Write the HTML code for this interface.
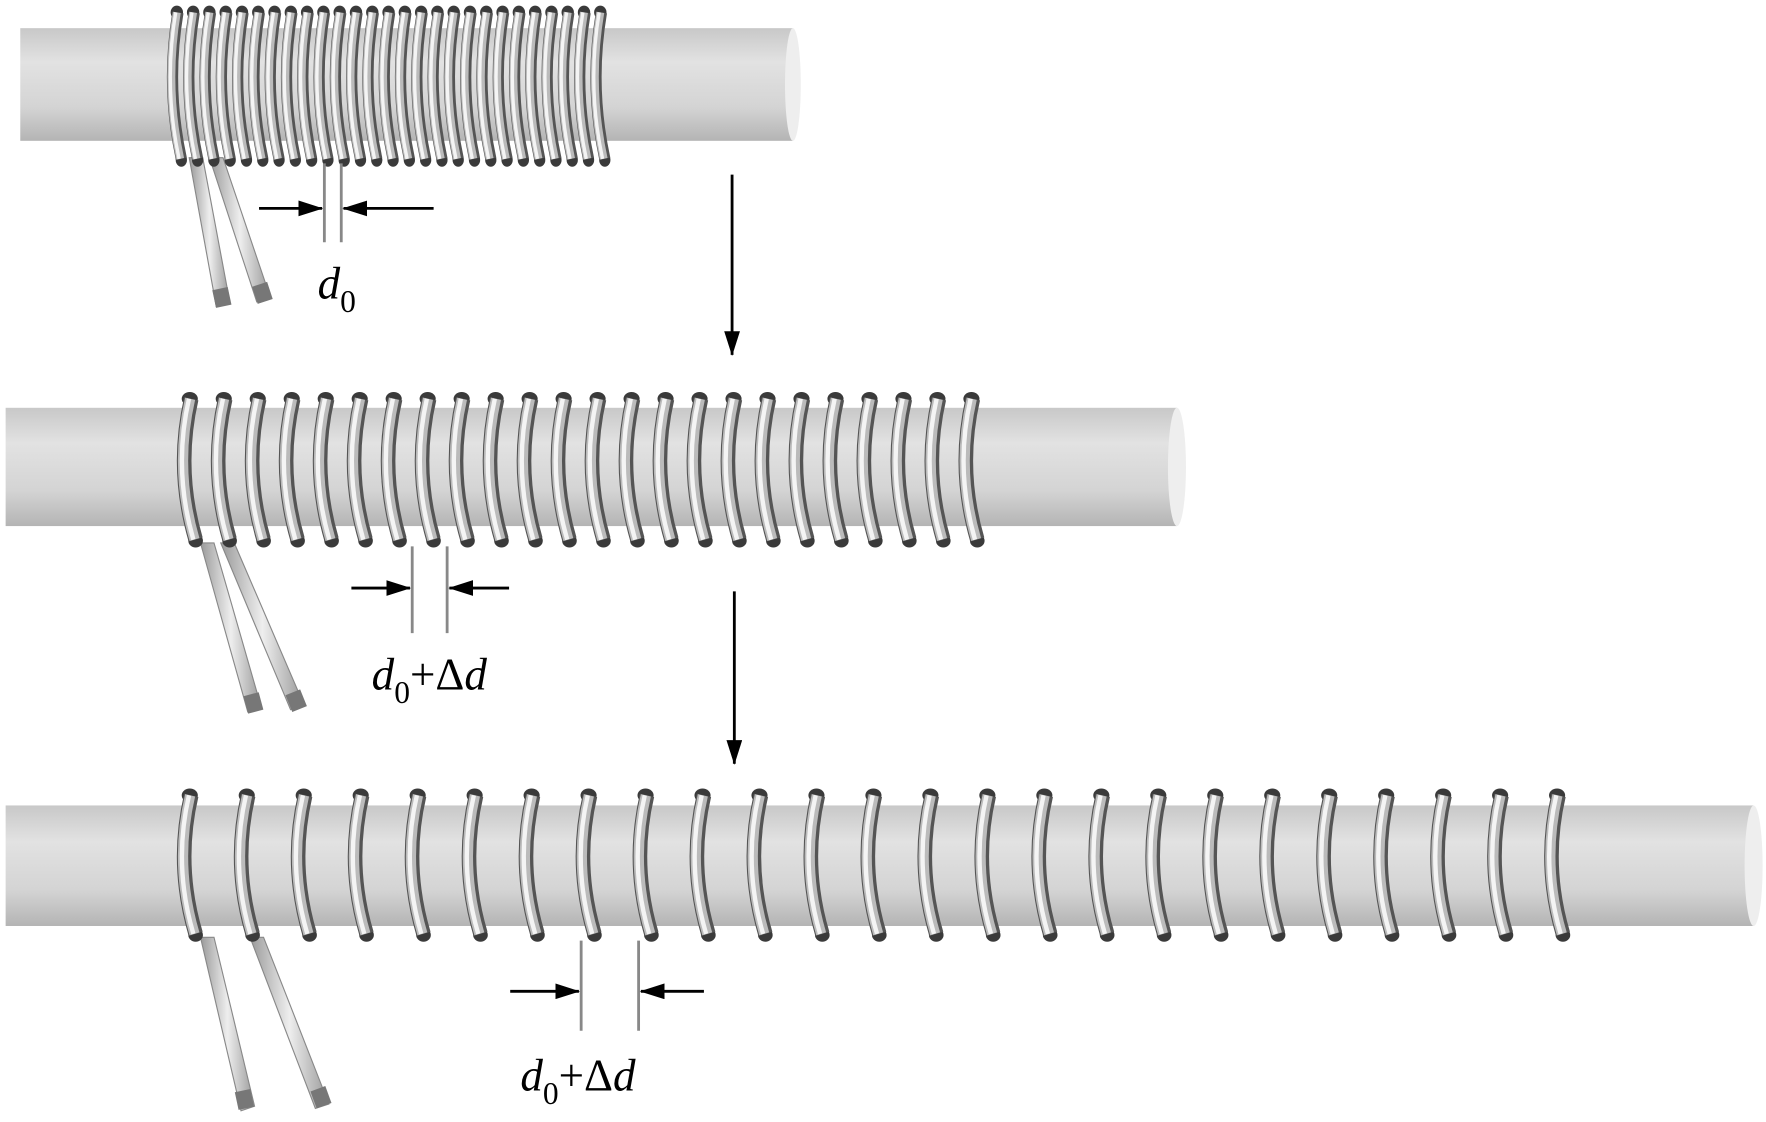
<!DOCTYPE html>
<html><head><meta charset="utf-8"><style>
html,body{margin:0;padding:0;background:#fff;}
svg{display:block}
text{font-family:"Liberation Serif",serif;font-style:italic;fill:#000}
</style></head><body>
<svg width="1766" height="1122" viewBox="0 0 1568 996" preserveAspectRatio="none" xmlns="http://www.w3.org/2000/svg">
<defs>
<linearGradient id="rod" x1="0" y1="0" x2="0" y2="1">
<stop offset="0" stop-color="#c8c8c8"/><stop offset="0.3" stop-color="#e2e2e2"/><stop offset="0.7" stop-color="#d4d4d4"/><stop offset="1" stop-color="#b4b4b4"/>
</linearGradient>
<linearGradient id="lead" x1="0" y1="0" x2="1" y2="0">
<stop offset="0" stop-color="#999"/><stop offset="0.5" stop-color="#eee"/><stop offset="1" stop-color="#999"/>
</linearGradient>
<marker id="ah2" markerWidth="22" markerHeight="14" refX="21" refY="7" orient="auto" markerUnits="userSpaceOnUse">
<path d="M0,0 L22,7 L0,14 Z" fill="#000"/></marker>
</defs>

<rect x="18" y="25" width="686" height="100" fill="url(#rod)"/>
<ellipse cx="704" cy="75" rx="7" ry="50" fill="#eee"/>
<polygon points="168,140 180,140 204,268 192,272" fill="url(#lead)" stroke="#888"/>
<polygon points="186,140 198,140 240,264 228,268" fill="url(#lead)" stroke="#888"/>
<rect x="190" y="256" width="14" height="16" fill="#777" transform="rotate(-12 197 264)"/>
<rect x="226" y="252" width="14" height="16" fill="#777" transform="rotate(-18 233 260)"/>

<rect x="5" y="362" width="1040" height="105" fill="url(#rod)"/>
<ellipse cx="1045" cy="414.5" rx="8" ry="52.5" fill="#eee"/>
<polygon points="178,482 190,482 232,628 220,632" fill="url(#lead)" stroke="#888"/>
<polygon points="196,482 208,482 270,626 258,630" fill="url(#lead)" stroke="#888"/>
<rect x="218" y="616" width="14" height="16" fill="#777" transform="rotate(-15 225 624)"/>
<rect x="256" y="614" width="14" height="16" fill="#777" transform="rotate(-22 263 622)"/>

<rect x="5" y="715" width="1552" height="107" fill="url(#rod)"/>
<ellipse cx="1557" cy="768.5" rx="8" ry="53.5" fill="#eee"/>
<polygon points="178,832 190,832 226,982 214,986" fill="url(#lead)" stroke="#888"/>
<polygon points="222,832 234,832 292,980 280,984" fill="url(#lead)" stroke="#888"/>
<rect x="210" y="968" width="14" height="16" fill="#777" transform="rotate(-12 217 976)"/>
<rect x="278" y="966" width="14" height="16" fill="#777" transform="rotate(-20 285 974)"/>

<g id="coils"></g>

<g stroke="#888" stroke-width="2.5"><line x1="288" y1="145" x2="288" y2="215"/><line x1="303" y1="145" x2="303" y2="215"/></g>
<line x1="230" y1="185" x2="286" y2="185" stroke="#000" stroke-width="2.5" marker-end="url(#ah2)"/>
<line x1="385" y1="185" x2="305" y2="185" stroke="#000" stroke-width="2.5" marker-end="url(#ah2)"/>
<text x="282" y="265" font-size="40">d<tspan font-size="28" dy="12" font-style="normal">0</tspan></text>

<line x1="650" y1="155" x2="650" y2="315" stroke="#000" stroke-width="2.5" marker-end="url(#ah2)"/>

<g stroke="#888" stroke-width="2.5"><line x1="366" y1="485" x2="366" y2="562"/><line x1="397" y1="485" x2="397" y2="562"/></g>
<line x1="312" y1="522" x2="364" y2="522" stroke="#000" stroke-width="2.5" marker-end="url(#ah2)"/>
<line x1="452" y1="522" x2="399" y2="522" stroke="#000" stroke-width="2.5" marker-end="url(#ah2)"/>
<text x="330" y="612" font-size="40">d<tspan font-size="28" dy="12" font-style="normal">0</tspan><tspan dy="-12" font-style="normal">+Δ</tspan>d</text>

<line x1="652" y1="525" x2="652" y2="678" stroke="#000" stroke-width="2.5" marker-end="url(#ah2)"/>

<g stroke="#888" stroke-width="2.5"><line x1="516" y1="835" x2="516" y2="915"/><line x1="567" y1="835" x2="567" y2="915"/></g>
<line x1="453" y1="880" x2="514" y2="880" stroke="#000" stroke-width="2.5" marker-end="url(#ah2)"/>
<line x1="625" y1="880" x2="569" y2="880" stroke="#000" stroke-width="2.5" marker-end="url(#ah2)"/>
<text x="462" y="968" font-size="40">d<tspan font-size="28" dy="12" font-style="normal">0</tspan><tspan dy="-12" font-style="normal">+Δ</tspan>d</text>
</svg>
<script>
(function(){
var ns="http://www.w3.org/2000/svg",g=document.getElementById("coils");
function el(t,a){var e=document.createElementNS(ns,t);for(var k in a)e.setAttribute(k,a[k]);g.appendChild(e);}
function coil(x0,x1,n,top,bot,w){
 var step=(x1-x0)/(n-1),mid=(top+bot)/2;
 for(var i=0;i<n;i++){
  var x=x0+i*step;
  var d="M"+(x+w*0.6)+","+(top+6)+" Q"+(x-w*0.5)+","+mid+" "+(x+w*0.9)+","+(bot-6);
  el("ellipse",{cx:x+w*0.5,cy:top+6,rx:w*0.55,ry:6,fill:"#3a3a3a"});
  el("ellipse",{cx:x+w*0.9,cy:bot-5,rx:w*0.5,ry:6,fill:"#3a3a3a"});
  el("path",{d:d,fill:"none",stroke:"#555","stroke-width":w});
  el("path",{d:d,fill:"none",stroke:"#bbb","stroke-width":w*0.7,transform:"translate(-1,0)"});
  el("path",{d:d,fill:"none",stroke:"#f4f4f4","stroke-width":w*0.3,transform:"translate(-2,0)"});
 }
}
coil(152,528,27,5,147,10);
coil(162,856,24,348,485,13);
coil(162,1376,25,700,835,13);
})();
</script>
</body></html>
